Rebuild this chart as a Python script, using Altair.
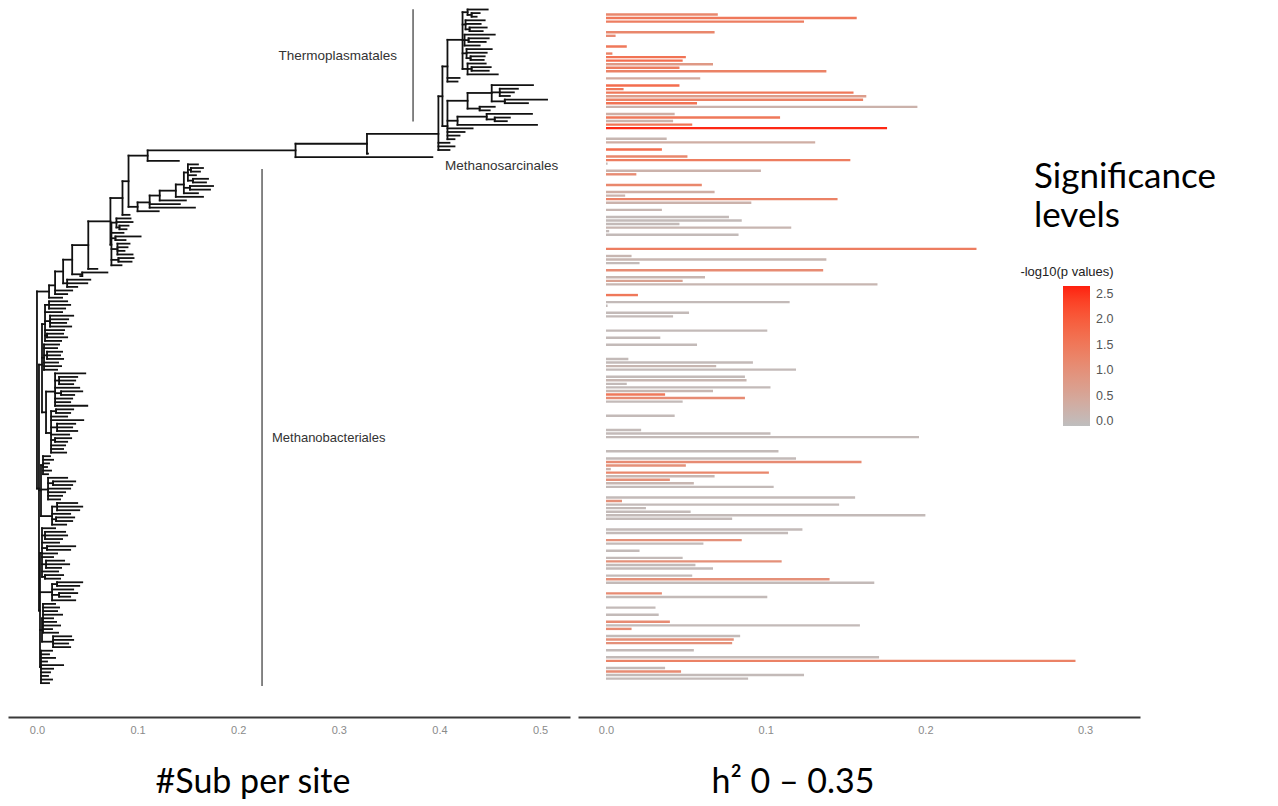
import altair as alt
import pandas as pd

# ---------------- tree data ----------------
# internal node = [node depth, child, child, ...]; tip = depth of the tip (#sub per site)
thermo = [0.423,
          [0.428, 0.448, [0.432, 0.44, 0.437]],
          [0.426, 0.445, 0.441, [0.43, 0.447, 0.443]],
          [0.425, 0.455, [0.429, 0.449, 0.446], 0.44],
          [0.427, 0.452, 0.447, [0.431, 0.445, 0.444]],
          [0.428, 0.446, [0.432, 0.451, 0.449], 0.458]]
methano_sarc = [0.408,
                [0.428,
                 [0.452, 0.493, [0.46, 0.478, 0.474, 0.47], [0.465, 0.507, 0.488]],
                 [0.44, 0.455, 0.45]],
                [0.418, [0.447, 0.492, [0.455, 0.47, 0.467]], 0.497],
                0.433, 0.425, 0.42, 0.415]
clade_cc = [0.408, thermo, 0.42, 0.418]
clade_cb = [0.403, clade_cc, methano_sarc]
clade_cr = [0.399, clade_cb, 0.41, 0.415, 0.41]
node_n1 = [0.328, clade_cr, 0.329]
node_arch = [0.257, node_n1, 0.393]
node_x1 = [0.11, node_arch, 0.141]
clade_x3 = [0.10,
            [0.112,
             [0.122,
              [0.138,
               [0.146,
                [0.15, 0.16, [0.153, 0.165, 0.162], 0.158, [0.155, 0.17, 0.168]],
                [0.152, 0.175, 0.172],
                0.16],
               0.165],
              0.148],
             0.142, 0.157],
            0.121]
node_x2 = [0.091, node_x1, clade_x3]
node_ua = [0.085, node_x2, 0.092]
clade_c1 = [0.074,
            [0.079, 0.093, 0.095, [0.082, 0.091, 0.089]],
            0.086,
            [0.078, 0.103, 0.088],
            [0.08, 0.092, 0.09, 0.087, 0.095],
            [0.081, 0.096, 0.094],
            0.084]
node_ub = [0.073, node_ua, clade_c1]
node_l1 = [0.051, node_ub, 0.06]
node_l2 = [0.035, node_l1, [0.045, 0.07, 0.043]]
node_l3 = [0.026, node_l2, [0.03, 0.053, 0.05, 0.04]]
node_l4 = [0.018, node_l3, 0.035, 0.03]
upper = [0.012, node_l4, 0.025]

g1 = [0.008, [0.012, 0.03, 0.033, 0.028], 0.025, [0.013, 0.036, 0.031, 0.029, 0.034], 0.027, [0.01, 0.026, 0.03], 0.024]
g2 = [0.007, 0.022, 0.02, [0.01, 0.025, 0.023, 0.026], 0.021, 0.024, 0.02]
g3 = [0.018, 0.048, [0.022, 0.04, 0.038, 0.036], 0.042, [0.024, 0.045, 0.037], 0.035, 0.033, 0.05]
g4 = [0.014, [0.019, 0.036, 0.033], 0.03, 0.046, [0.02, 0.038, 0.035, 0.04], 0.032, [0.018, 0.034, 0.03], 0.028, 0.026, 0.029]
g5 = [0.006, 0.013, 0.016, 0.012, 0.01, 0.014, 0.011]
g6 = [0.011, 0.03, [0.016, 0.038, 0.035], 0.033, 0.028, 0.025, 0.023]
g7 = [0.015, [0.02, 0.04, 0.045, 0.042], 0.033, [0.019, 0.037, 0.035], 0.029]
g8 = [0.005, 0.018, [0.008, 0.028, 0.03, 0.025], 0.022, [0.01, 0.038, 0.033], 0.02, 0.016, [0.009, 0.027, 0.032, 0.024], 0.021, [0.008, 0.026, 0.023]]
g9 = [0.015, [0.02, 0.045, 0.042], 0.036, [0.022, 0.04, 0.033], 0.038]
g10 = [0.006, 0.018, 0.022, 0.02, 0.025, 0.016, 0.019, 0.023, 0.015, 0.021]
g11 = [0.016, 0.034, 0.036, 0.031, 0.033]
g12 = [0.004, 0.015, 0.012, 0.018, 0.01, 0.026, 0.016, 0.013, 0.011, 0.015, 0.012]
lower = [0.002,
         [0.005, g1, g2, [0.009, g3, g4]],
         [0.004, g5, g6, g7],
         [0.003, g8, g9, [0.005, g10, g11], g12]]
tree_root = [0.0, upper, lower]

# ---------------- bar data (one bar per tip that has a value) ----------------
bar_tip = [0, 1, 2, 5, 6, 9, 11, 12, 13, 14, 15, 16, 18, 20, 21, 22, 23, 24, 25, 26, 28, 29, 30, 31, 32,
           35, 36, 38, 40, 41, 42, 44, 45, 48, 50, 51, 52, 53, 55, 57, 58, 59, 60, 61, 62, 66, 68, 69, 70,
           72, 74, 75, 76, 79, 81, 82, 84, 85, 89, 91, 93, 97, 98, 99, 100, 102, 103, 104, 105, 106, 107,
           108, 109, 113, 117, 118, 119, 123, 125, 126, 127, 128, 129, 130, 131, 132, 133, 136, 137, 138,
           139, 140, 141, 142, 145, 146, 148, 149, 151, 153, 154, 155, 156, 158, 159, 160, 163, 164, 167,
           169, 171, 172, 173, 175, 176, 177, 179, 181, 182, 184, 185, 186, 187]
bar_h2 = [0.070, 0.157, 0.124, 0.068, 0.006, 0.013, 0.004, 0.050, 0.048, 0.067, 0.046, 0.138, 0.059, 0.046,
          0.011, 0.155, 0.163, 0.161, 0.057, 0.195, 0.043, 0.109, 0.042, 0.054, 0.176, 0.038, 0.131, 0.035,
          0.051, 0.153, 0.001, 0.097, 0.019, 0.060, 0.068, 0.012, 0.145, 0.091, 0.035, 0.077, 0.085, 0.046,
          0.116, 0.002, 0.083, 0.232, 0.016, 0.138, 0.021, 0.136, 0.062, 0.048, 0.170, 0.020, 0.115, 0.001,
          0.052, 0.042, 0.101, 0.034, 0.057, 0.014, 0.092, 0.069, 0.119, 0.087, 0.088, 0.013, 0.103, 0.067,
          0.037, 0.087, 0.048, 0.043, 0.022, 0.103, 0.196, 0.108, 0.119, 0.160, 0.050, 0.003, 0.102, 0.068,
          0.040, 0.055, 0.105, 0.156, 0.010, 0.146, 0.025, 0.053, 0.200, 0.079, 0.123, 0.114, 0.085, 0.061,
          0.021, 0.048, 0.110, 0.056, 0.067, 0.054, 0.140, 0.168, 0.035, 0.101, 0.031, 0.033, 0.040, 0.159,
          0.016, 0.084, 0.080, 0.079, 0.055, 0.171, 0.294, 0.037, 0.047, 0.124, 0.089]
bar_logp = [1.2, 1.5, 1.4, 1.2, 1.1, 1.5, 1.3, 1.6, 1.7, 0.8, 1.4, 1.3, 0.4, 1.7, 1.5, 1.5, 0.7, 1.3, 1.6, 0.2,
            0.3, 1.5, 0.2, 1.6, 2.6, 0.1, 0.3, 1.7, 1.2, 1.4, 0.0, 0.2, 1.1, 1.2, 0.3, 0.2, 1.3, 0.2, 0.1,
            0.0, 0.0, 0.0, 0.1, 0.0, 0.0, 1.4, 0.1, 0.1, 0.0, 1.1, 0.1, 0.6, 0.1, 1.5, 0.0, 0.0, 0.0, 0.0,
            0.0, 0.0, 0.0, 0.0, 0.0, 0.1, 0.0, 0.0, 0.1, 0.0, 0.0, 0.1, 1.5, 1.1, 0.0, 0.0, 0.0, 0.0, 0.0,
            0.0, 0.0, 1.1, 1.0, 0.2, 1.2, 0.1, 1.0, 0.1, 0.0, 0.0, 1.0, 0.0, 0.0, 0.0, 0.0, 0.0, 0.0, 0.0,
            1.0, 0.0, 0.0, 0.0, 1.0, 0.0, 0.0, 0.0, 1.0, 0.0, 1.1, 0.0, 0.0, 0.0, 1.1, 0.0, 1.1, 0.0, 1.0,
            1.0, 0.0, 0.0, 1.3, 0.0, 1.1, 0.0, 0.0]

tree_ticks = [0.0, 0.1, 0.2, 0.3, 0.4, 0.5]
h2_ticks = [0.0, 0.1, 0.2, 0.3]
legend_values = [0.0, 0.5, 1.0, 1.5, 2.0, 2.5]


# ---------------- tree layout (tip index = y, node y = mean of children) ----------------
def layout(node, parent_depth, counter, segs):
    if not isinstance(node, list):
        y = counter[0]
        counter[0] += 1
        segs.append({"x": parent_depth, "x2": node, "y": y, "y2": y})
        return y
    depth = node[0]
    ys = [layout(c, depth, counter, segs) for c in node[1:]]
    y = sum(ys) / len(ys)
    segs.append({"x": depth, "x2": depth, "y": ys[0], "y2": ys[-1]})
    if parent_depth is not None:
        segs.append({"x": parent_depth, "x2": depth, "y": y, "y2": y})
    return y


segs = []
counter = [0]
layout(tree_root, None, counter, segs)
seg_df = pd.DataFrame(segs)
bars_df = pd.DataFrame({"tip": bar_tip, "h2": bar_h2, "logp": bar_logp})

W_PANEL = 562
H = 708
yscale = alt.Scale(domain=[-0.14, 196.4], reverse=True, nice=False, zero=False)
xs_tree = alt.Scale(domain=[-0.0288, 0.5298], nice=False, zero=False)
xs_h2 = alt.Scale(domain=[-0.01754, 0.3344], nice=False, zero=False)

axis_common = dict(title=None, format=".1f", ticks=False, grid=False, domainWidth=2.2,
                   domainColor="#3a3a3a", labelColor="#8a8a8a", labelFontSize=11,
                   labelFont="Liberation Sans", labelPadding=7)

tree = alt.Chart(seg_df).mark_rule(color="#111111", strokeWidth=1.8, strokeCap="square").encode(
    x=alt.X("x:Q", scale=xs_tree, axis=alt.Axis(values=tree_ticks, **axis_common)),
    x2="x2:Q",
    y=alt.Y("y:Q", scale=yscale, axis=None),
    y2="y2:Q",
)

clade_bar_df = pd.DataFrame({"x": [0.3738, 0.2237], "y": [-0.1, 44.3], "y2": [31.1, 187.8]})
clade_bars = alt.Chart(clade_bar_df).mark_rule(color="#444444", strokeWidth=1.3).encode(
    x=alt.X("x:Q", scale=xs_tree), y=alt.Y("y:Q", scale=yscale), y2="y2:Q")

lab_font = "Liberation Sans"
thermo_lab = alt.Chart(pd.DataFrame({"t": ["Thermoplasmatales"]})).mark_text(
    align="right", baseline="middle", fontSize=13.5, font=lab_font, color="#333333"
).encode(x=alt.value(389), y=alt.value(47), text="t:N")
sarc_lab = alt.Chart(pd.DataFrame({"t": ["Methanosarcinales"]})).mark_text(
    align="left", baseline="middle", fontSize=13.5, font=lab_font, color="#333333"
).encode(x=alt.value(437), y=alt.value(157), text="t:N")
bact_lab = alt.Chart(pd.DataFrame({"t": ["Methanobacteriales"]})).mark_text(
    align="left", baseline="middle", fontSize=13, font=lab_font, color="#333333"
).encode(x=alt.value(264), y=alt.value(429), text="t:N")

big_font = "Lato"
sub_lab = alt.Chart(pd.DataFrame({"t": ["#Sub per site"]})).mark_text(
    align="center", baseline="middle", fontSize=34, font=big_font, color="#000000"
).encode(x=alt.value(245), y=alt.value(774), text="t:N")

left = alt.layer(tree, clade_bars, thermo_lab, sarc_lab, bact_lab, sub_lab).properties(
    width=W_PANEL, height=H)

bars = alt.Chart(bars_df).mark_bar(orient="horizontal", size=2.4).encode(
    x=alt.X("h2:Q", scale=xs_h2, axis=alt.Axis(values=h2_ticks, **axis_common)),
    y=alt.Y("tip:Q", scale=yscale, axis=None),
    color=alt.Color("logp:Q",
                    scale=alt.Scale(domain=[-0.1, 2.66], range=["#bebebe", "#ff1e0f"], interpolate="lab"),
                    legend=alt.Legend(title=None, orient="none", legendX=485, legendY=277,
                                      gradientLength=140, gradientThickness=27, values=legend_values,
                                      format=".1f", labelFontSize=12.5, labelColor="#555555",
                                      labelFont="Liberation Sans", labelOffset=6, labelOverlap=False,
                                      gradientStrokeWidth=0, direction="vertical")),
)

leg_title = alt.Chart(pd.DataFrame({"t": ["-log10(p values)"]})).mark_text(
    align="center", baseline="middle", fontSize=13, font="Liberation Sans", color="#222222"
).encode(x=alt.value(489), y=alt.value(263), text="t:N")
sig = alt.Chart(pd.DataFrame({"t": ["Significance\nlevels"]})).mark_text(
    align="left", baseline="alphabetic", fontSize=35, font=big_font, color="#000000",
    lineBreak="\n", lineHeight=39
).encode(x=alt.value(456), y=alt.value(179), text="t:N")
h2_lab = alt.Chart(pd.DataFrame({"t": ["h² 0 – 0.35"]})).mark_text(
    align="center", baseline="middle", fontSize=34, font=big_font, color="#000000"
).encode(x=alt.value(215), y=alt.value(774), text="t:N")

right = alt.layer(bars, leg_title, sig, h2_lab).properties(width=W_PANEL, height=H)

chart = alt.hconcat(left, right, spacing=8).resolve_scale(
    x="independent", y="independent", color="independent"
).resolve_legend(color="independent").properties(padding=0).configure_view(stroke=None)

chart.save("out.html", embed_options={"renderer": "svg", "actions": False})
